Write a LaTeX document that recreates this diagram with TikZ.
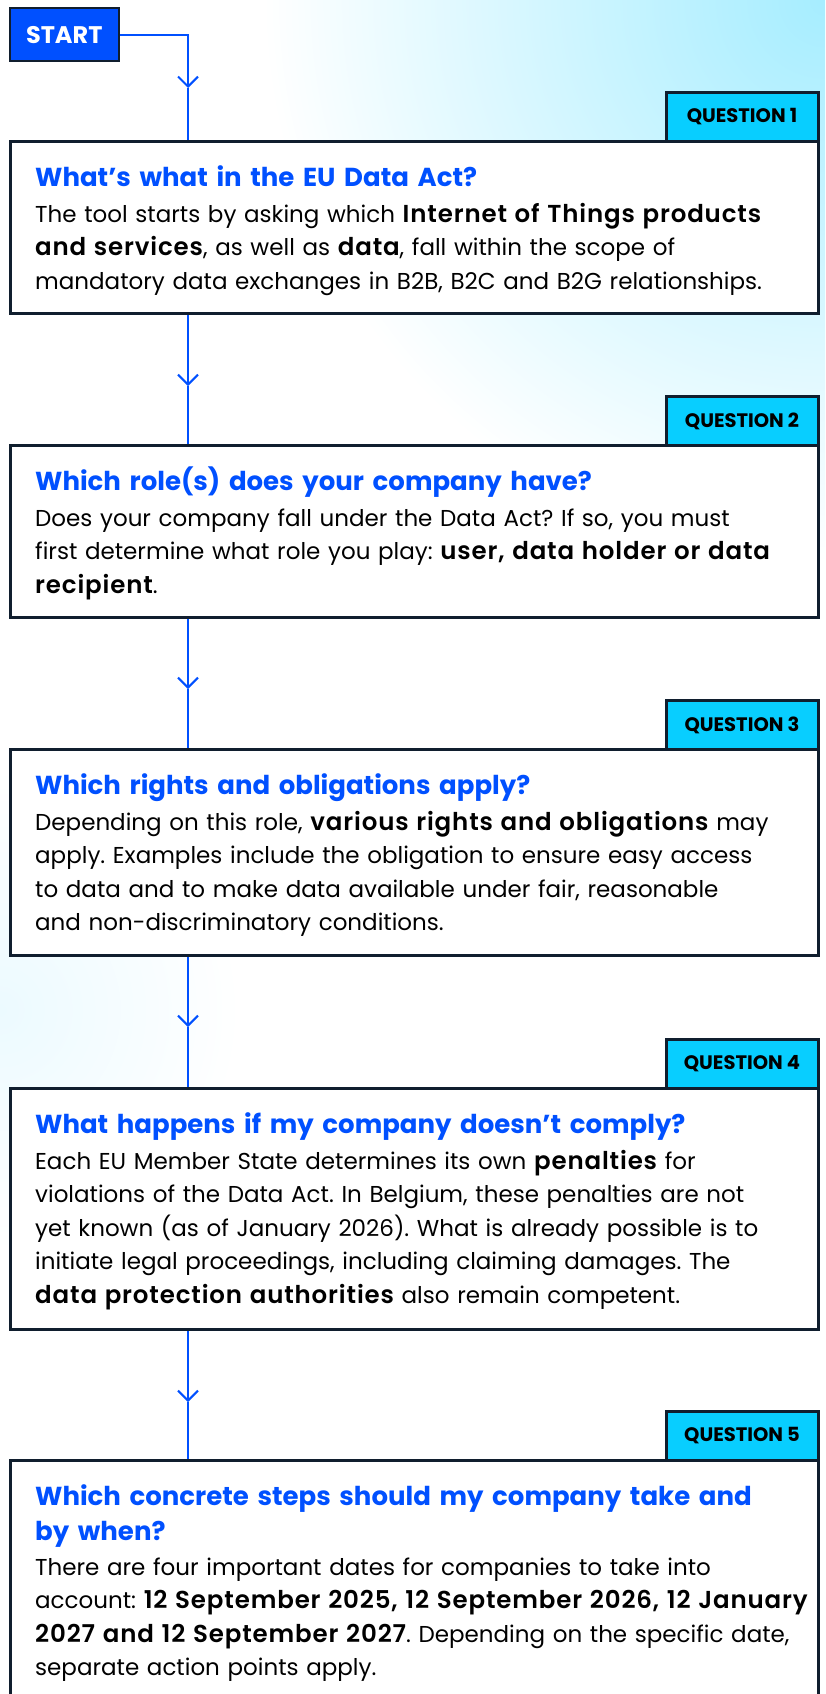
\documentclass[tikz,border=0pt]{standalone}
\usepackage{fontspec}
\setmainfont{Poppins}
\newfontfamily\dasemifont{Poppins SemiBold}
\usetikzlibrary{arrows.meta}
\definecolor{dablue}{RGB}{0,80,255}
\definecolor{dacyan}{RGB}{8,206,255}
\definecolor{danavy}{RGB}{16,30,46}
\definecolor{daglow}{RGB}{166,237,255}
\definecolor{daglowleft}{RGB}{236,250,255}
\pgfdeclareradialshading{glowshade}{\pgfpoint{0bp}{0bp}}{color(0bp)=(daglow); color(560bp)=(white)}
\pgfdeclareradialshading{leftglowshade}{\pgfpoint{0bp}{0bp}}{color(0bp)=(daglowleft); color(240bp)=(white)}
\newcommand{\dabold}[1]{{\fontsize{24.5}{33.5}\dasemifont\addfontfeature{LetterSpace=3.5}#1}}
\frenchspacing

\begin{document}
\begin{tikzpicture}[x=1pt,y=1pt,yscale=-1,
	qbox/.style={draw=danavy,line width=3pt,fill=white,minimum width=808pt,anchor=north west,inner sep=0pt},
	qtag/.style={draw=danavy,line width=3pt,fill=dacyan,minimum width=152pt,minimum height=49pt,anchor=south east,inner sep=0pt,font=\fontsize{19.5}{22}\selectfont\bfseries},
	qtitle/.style={anchor=base west,inner sep=0pt,text width=780pt,align=left,text=dablue,font=\fontsize{26}{35}\selectfont\bfseries},
	qbody/.style={anchor=base west,inner sep=0pt,text width=780pt,align=left,font=\fontsize{23}{33.5}\selectfont},
	startbox/.style={draw=danavy,line width=2.5pt,fill=dablue,text=white,minimum width=109pt,minimum height=53pt,anchor=north west,inner sep=0pt,font=\fontsize{24}{26}\selectfont\bfseries},
	flow/.style={draw=dablue,line width=2pt},
	flowtip/.style={-{Straight Barb[length=10pt,width=20pt]}}]
	\useasboundingbox (0,0) rectangle (825,1694);
	\clip (0,0) rectangle (825,1694);
	\fill[white] (0,0) rectangle (825,1694);
	\node[inner sep=0pt] (glow) at (825,0) {\pgfuseshading{glowshade}};
	\node[inner sep=0pt] (glowleft) at (0,1010) {\pgfuseshading{leftglowshade}};

	\node[startbox] (start) at (8.5,7) {START};

	\node[qtag] (tag1) at (819.5,143) {QUESTION 1};
	\node[qbox,minimum height=172pt] (box1) at (8.5,140) {};
	\node[qtitle] (title1) at (35,186) {What’s what in the EU Data Act?};
	\node[qbody] (body1) at (35,222) {The tool starts by asking which \dabold{Internet of Things products}\\
		\dabold{and services}, as well as \dabold{data}, fall within the scope of\\
		mandatory data exchanges in B2B, B2C and B2G relationships.};

	\node[qtag] (tag2) at (819.5,447) {QUESTION 2};
	\node[qbox,minimum height=172pt] (box2) at (8.5,444) {};
	\node[qtitle] (title2) at (35,490) {Which role(s) does your company have?};
	\node[qbody] (body2) at (35,526) {Does your company fall under the Data Act? If so, you must\\
		first determine what role you play: \dabold{user, data holder or data}\\
		\dabold{recipient}.};

	\node[qtag] (tag3) at (819.5,751) {QUESTION 3};
	\node[qbox,minimum height=206pt] (box3) at (8.5,748) {};
	\node[qtitle] (title3) at (35,794) {Which rights and obligations apply?};
	\node[qbody] (body3) at (35,830) {Depending on this role, \dabold{various rights and obligations} may\\
		apply. Examples include the obligation to ensure easy access\\
		to data and to make data available under fair, reasonable\\
		and non-discriminatory conditions.};

	\node[qtag] (tag4) at (819.5,1090) {QUESTION 4};
	\node[qbox,minimum height=241pt] (box4) at (8.5,1087) {};
	\node[qtitle] (title4) at (35,1133) {What happens if my company doesn’t comply?};
	\node[qbody] (body4) at (35,1169) {Each EU Member State determines its own \dabold{penalties} for\\
		violations of the Data Act. In Belgium, these penalties are not\\
		yet known (as of January 2026). What is already possible is to\\
		initiate legal proceedings, including claiming damages. The\\
		\dabold{data protection authorities} also remain competent.};

	\node[qtag] (tag5) at (819.5,1462) {QUESTION 5};
	\node[qbox,minimum height=260pt] (box5) at (8.5,1459) {};
	\node[qtitle] (title5) at (35,1505) {Which concrete steps should my company take and\\
		by when?};
	\node[qbody] (body5) at (35,1575) {There are four important dates for companies to take into\\
		account: \dabold{12 September 2025, 12 September 2026, 12 January}\\
		\dabold{2027 and 12 September 2027}. Depending on the specific date,\\
		separate action points apply.};

	\coordinate (a1) at (188,88);
	\coordinate (a2) at (188,386);
	\coordinate (a3) at (188,689);
	\coordinate (a4) at (188,1027);
	\coordinate (a5) at (188,1402);

	\draw[flow,flowtip] (start.east) -| (a1);
	\draw[flow] (a1) -- (box1.north -| a1);
	\draw[flow,flowtip] (box1.south -| a2) -- (a2);
	\draw[flow] (a2) -- (box2.north -| a2);
	\draw[flow,flowtip] (box2.south -| a3) -- (a3);
	\draw[flow] (a3) -- (box3.north -| a3);
	\draw[flow,flowtip] (box3.south -| a4) -- (a4);
	\draw[flow] (a4) -- (box4.north -| a4);
	\draw[flow,flowtip] (box4.south -| a5) -- (a5);
	\draw[flow] (a5) -- (box5.north -| a5);
\end{tikzpicture}
\end{document}
